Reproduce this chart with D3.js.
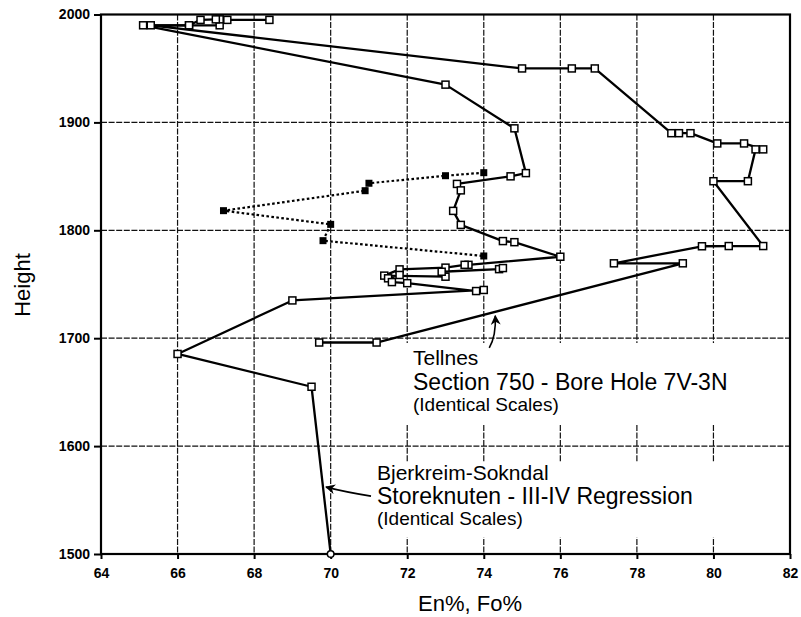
<!DOCTYPE html>
<html>
<head>
<meta charset="utf-8">
<script src="https://cdn.jsdelivr.net/npm/d3@7"></script>
<style>
  body { margin: 0; background: #fff; }
  svg { display: block; font-family: "Liberation Sans", Arial, Helvetica, sans-serif; }
</style>
</head>
<body>
<svg id="chart" width="801" height="617"></svg>
<script>
// Axis ticks
const xTicks = [64, 66, 68, 70, 72, 74, 76, 78, 80, 82];
const yTicks = [1500, 1600, 1700, 1800, 1900, 2000];

// Tellnes, Section 750 - Bore Hole 7V-3N (En%, height)
const tellnesSeries = [
  [67.1, 1990], [66.3, 1990], [65.3, 1990], [75.0, 1950], [76.3, 1950], [76.9, 1950],
  [78.9, 1890], [79.1, 1890], [79.4, 1890], [80.1, 1880.5], [80.8, 1880.5], [81.3, 1875],
  [81.1, 1875], [80.9, 1845.5], [80.0, 1845.5], [81.3, 1785.4], [80.4, 1785.4], [79.7, 1785.2],
  [77.4, 1769.4], [79.2, 1769.4], [71.2, 1696], [69.7, 1696]
];

// Bjerkreim-Sokndal, Storeknuten - III-IV Regression (null = break in the trace)
const storeknutenSeries = [
  [68.4, 1995], [67.3, 1995], [67.1, 1995.5], [67.0, 1995.5], [66.6, 1995], [66.3, 1990],
  [65.1, 1990], [73.0, 1935], [74.8, 1894.5], [75.1, 1853], [74.7, 1850], [73.3, 1843],
  [73.4, 1837], [73.2, 1818], [73.4, 1805], [74.5, 1790], [74.8, 1789], [76.0, 1775.5],
  [73.6, 1768], [73.5, 1768], [73.0, 1765.4], [71.8, 1763.8], [71.4, 1758], [73.0, 1757],
  [72.9, 1761.6], [74.4, 1764], [74.5, 1765], null,
  [71.8, 1758.6], [71.5, 1755.5], [71.6, 1752], [72.0, 1751], [73.8, 1743.7], [74.0, 1744.7],
  [69.0, 1735], [66.0, 1685.4], [69.5, 1655], [70.0, 1500]
];

// Fo% trace (dotted, filled squares)
const foSeries = [
  [74.0, 1853.4], [73.0, 1850.6], [71.0, 1843.6], [70.9, 1836.7], [67.2, 1818.2],
  [70.0, 1805.5], [69.8, 1790.4], [74.0, 1776.2]
];

const tellnesLabel = ["Tellnes", "Section 750 - Bore Hole 7V-3N", "(Identical Scales)"];
const storeknutenLabel = ["Bjerkreim-Sokndal", "Storeknuten - III-IV Regression", "(Identical Scales)"];
const xTitle = "En%, Fo%";
const yTitle = "Height";

const W = 801, H = 617;
const m = { top: 14.5, right: 11, bottom: 63, left: 101 };

const svg = d3.select("#chart");
const x = d3.scaleLinear().domain([64, 82]).range([m.left, W - m.right]);
const y = d3.scaleLinear().domain([1500, 2000]).range([H - m.bottom, m.top]);

// Dashed grid
const grid = svg.append("g").attr("stroke", "#111").attr("stroke-width", 1.2)
  .attr("stroke-dasharray", "6,1.6");
grid.selectAll(".vx").data(xTicks.slice(1, -1)).join("line")
  .attr("x1", d => x(d)).attr("x2", d => x(d))
  .attr("y1", y(2000)).attr("y2", y(1500));
grid.selectAll(".hy").data(yTicks.slice(1, -1)).join("line")
  .attr("y1", d => y(d)).attr("y2", d => y(d))
  .attr("x1", x(64)).attr("x2", x(82));

// Axes
const xAxis = svg.append("g").attr("transform", `translate(0,${y(1500)})`)
  .call(d3.axisBottom(x).tickValues(xTicks).tickSize(5).tickPadding(9).tickFormat(d3.format("d")));
const yAxis = svg.append("g").attr("transform", `translate(${x(64)},0)`)
  .call(d3.axisLeft(y).tickValues(yTicks).tickSize(7).tickPadding(4).tickFormat(d3.format("d")));
[xAxis, yAxis].forEach(a => {
  a.select(".domain").remove();
  a.selectAll(".tick line").attr("stroke", "#000").attr("stroke-width", 2);
  a.selectAll(".tick text").attr("fill", "#000").attr("font-size", 14)
    .attr("font-weight", "bold").attr("font-family", "Liberation Sans, Arial, sans-serif");
});

// Frame
svg.append("rect")
  .attr("x", x(64)).attr("y", y(2000))
  .attr("width", x(82) - x(64)).attr("height", y(1500) - y(2000))
  .attr("fill", "none").attr("stroke", "#000").attr("stroke-width", 2.2);

// Axis titles
svg.append("text").attr("x", 470).attr("y", 611).attr("text-anchor", "middle")
  .attr("font-size", 22).text(xTitle);
svg.append("text").attr("transform", "translate(30,285) rotate(-90)")
  .attr("text-anchor", "middle").attr("font-size", 22).text(yTitle);

// Annotation blocks on a white ground
function labelBlock(lines, x0, yBase, box) {
  svg.append("rect").attr("x", box[0]).attr("y", box[1])
    .attr("width", box[2]).attr("height", box[3]).attr("fill", "#fff");
  const sizes = [21, 23, 19];
  const g = svg.append("g");
  lines.forEach((t, i) => {
    g.append("text").attr("x", x0).attr("y", yBase[i])
      .attr("font-size", sizes[i]).attr("fill", "#000").text(t);
  });
}
labelBlock(tellnesLabel, 413, [365, 390, 411], [400, 343, 340, 82]);
labelBlock(storeknutenLabel, 377, [480, 504, 525], [368, 463, 356, 74]);

// Traces
const line = d3.line().defined(d => d !== null).x(d => x(d[0])).y(d => y(d[1]));

[tellnesSeries, storeknutenSeries].forEach(s => {
  svg.append("path").datum(s).attr("d", line)
    .attr("fill", "none").attr("stroke", "#000").attr("stroke-width", 2.3)
    .attr("stroke-linejoin", "round");
});
svg.append("path").datum(foSeries).attr("d", line)
  .attr("fill", "none").attr("stroke", "#000").attr("stroke-width", 2.2).attr("stroke-dasharray", "2.6,2.4");

const sq = 7;
const openPts = tellnesSeries.concat(storeknutenSeries.slice(0, -1)).filter(d => d !== null);
svg.append("g").selectAll("rect").data(openPts).join("rect")
  .attr("x", d => x(d[0]) - sq / 2).attr("y", d => y(d[1]) - sq / 2)
  .attr("width", sq).attr("height", sq)
  .attr("fill", "#fff").attr("stroke", "#000").attr("stroke-width", 1.5);
svg.append("g").selectAll("rect").data(foSeries).join("rect")
  .attr("x", d => x(d[0]) - sq / 2).attr("y", d => y(d[1]) - sq / 2)
  .attr("width", sq).attr("height", sq).attr("fill", "#000");
const lastPt = storeknutenSeries[storeknutenSeries.length - 1];
svg.append("circle").attr("cx", x(lastPt[0])).attr("cy", y(lastPt[1])).attr("r", 3.3)
  .attr("fill", "#fff").attr("stroke", "#000").attr("stroke-width", 1.5);

// Arrows from the labels to their traces
svg.append("defs").append("marker").attr("id", "head")
  .attr("viewBox", "0 0 10 10").attr("refX", 9).attr("refY", 5)
  .attr("markerWidth", 10).attr("markerHeight", 10).attr("markerUnits", "userSpaceOnUse")
  .attr("orient", "auto")
  .append("path").attr("d", "M0,0 L10,5 L0,10 L3,5 Z").attr("fill", "#000");

function onSegment(a, b, xv) {
  const t = (xv - a[0]) / (b[0] - a[0]);
  return [xv, a[1] + t * (b[1] - a[1])];
}
const tTip = onSegment([79.2, 1769.4], [71.2, 1696], 74.3);
const tx = x(tTip[0]), ty = y(tTip[1]) + 4;
svg.append("path")
  .attr("d", `M${tx - 6},${ty + 32} Q${tx + 1},${ty + 20} ${tx},${ty}`)
  .attr("fill", "none").attr("stroke", "#000").attr("stroke-width", 1.6)
  .attr("marker-end", "url(#head)");

const sTip = onSegment([69.5, 1655], [70.0, 1500], 69.8);
const sx = x(sTip[0]) + 3, sy = y(sTip[1]);
svg.append("path")
  .attr("d", `M${sx + 45},${sy + 9} Q${sx + 20},${sy + 5} ${sx},${sy}`)
  .attr("fill", "none").attr("stroke", "#000").attr("stroke-width", 1.6)
  .attr("marker-end", "url(#head)");
</script>
</body>
</html>
